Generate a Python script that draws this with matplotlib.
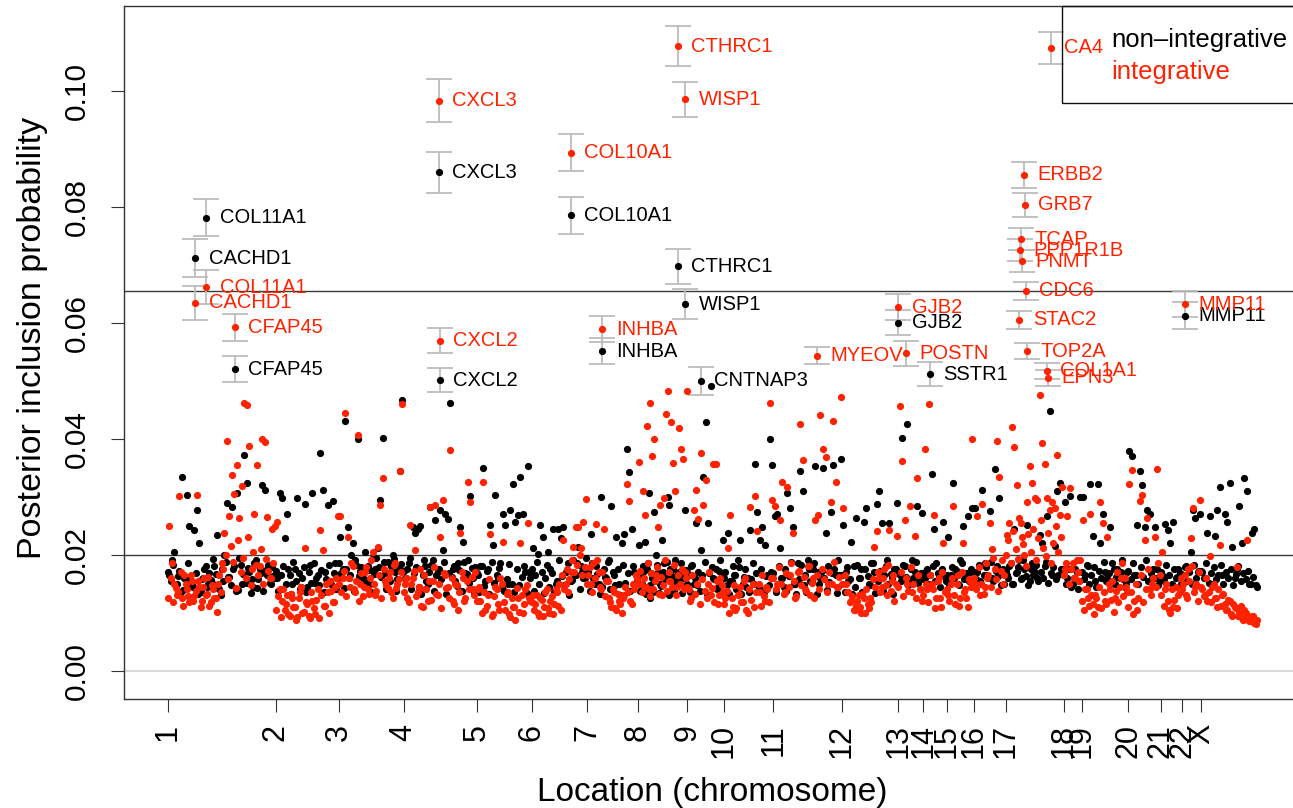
import matplotlib
matplotlib.use('Agg')
import matplotlib.pyplot as plt
from matplotlib.patches import Rectangle

plt.rcParams['font.family'] = ['Liberation Sans', 'DejaVu Sans']

# ---------------- data ----------------
chromosomes = ['1', '2', '3', '4', '5', '6', '7', '8', '9', '10', '11', '12',
               '13', '14', '15', '16', '17', '18', '19', '20', '21', '22', 'X']
# chromosome start positions along the genome axis (gene-order units)
chrom_start = [0, 107.8, 171, 235.7, 308.7, 363.5, 419.1, 470.1, 519.5, 556.1,
               605.5, 674, 730.3, 755.4, 779, 805.7, 837.6, 895.5, 913.7,
               960.2, 992.9, 1014.2, 1033.2]
genome_end = 1090.0

# background posterior inclusion probabilities, units of 1e-4, per chromosome
# (genes at odd half-steps)
black_pip = [
    [165,190,205,150,172,334,160,303,250,148,243,277,221,158,175,145,168,152,180,234,140,175,200,289,162,283,180,306,195,150,372,323,170,158,185,142,175,320,311,165,152,178,160],
    [160,306,297,228,271,165,150,175,298,140,160,287,145,182,306,152,165,375,311,170,286,155,293,185,160],
    [231,175,430,248,165,220,190,400,172,160,205,180,150,195,175,212,295,401,168,188,155,200,170,158,345,466],
    [160,175,195,248,237,245,249,165,180,150,283,190,260,170,277,208,270,261,461,175,155,185,248,222,168,190,301,160,178],
    [165,180,349,155,175,251,217,303,160,185,271,251,150,277,322,257,268,334,271,170,353,160],
    [211,165,202,251,231,160,205,175,245,150,245,228,248,170,185,155,190,165,214,180,160,195],
    [170,235,160,180,150,299,175,160,190,284,165,231,150,220,235,383,343,245,170,155],
    [217,165,180,222,175,306,125,160,274,199,170,150,225,185,160,299,286,160,175,190,155,170,185,160,277,150],
    [165,180,150,254,170,208,334,429,254,490,160,175,145,190,225],
    [170,237,155,180,165,190,225,150,175,160,243,185,357,274,225,248,217,165,399,355],
    [266,271,211,160,175,306,280,248,150,185,345,309,165,190,155,175,353,170,160,349,237,180,274,355,165,190,365],
    [251,170,155,222,180,263,160,175,257,280,150,185,170,287,310,255,165,190,254,160,175,289],
    [165,401,180,426,155,190,170,284,160,272],
    [160,175,150,339,245,185,165,170,257,155],
    [231,165,323,175,150,190,249,160,266,170,280],
    [280,170,155,311,185,165,275,160,347,180,297,170,150],
    [165,180,150,245,170,190,160,175,251,155,185,170,160,234,220,180,266,447,165,215,310,324,175],
    [291,160,301,150,175,140,300],
    [300,165,180,322,232,155,322,220,271,170,160,248,185,150,175,160,190,145,170],
    [378,370,165,251,345,320,248,277,271,160,248,175,155],
    [165,253,243,220,257,160,175,150],
    [165,180,155,205,277,263,170,271],
    [170,160,237,266,150,232,277,316,165,271,257,323,214,160,175,284,221,333,309,150,237,244,145],
]
red_pip = [
    [250,185,150,130,301,125,165,140,118,155,128,303,145,120,160,132,112,148,125,102,165,185,238,396,266,338,305,355,263,318,462,458,388,175,270,355,180,399,395,265,160,245,250],
    [257,140,120,105,130,95,125,110,92,135,100,211,115,90,120,98,140,243,208,112,135,155,118,145,266],
    [266,160,445,231,145,180,135,407,150,128,170,140,160,205,130,214,286,333,155,142,170,125,185,150,344,460],
    [150,125,252,160,208,135,175,110,140,120,283,155,286,130,231,294,165,145,380,120,150,105,237,160,125,325,291,140,170],
    [140,120,325,105,130,236,98,145,115,160,222,105,135,92,110,87,125,220,100,140,255,120],
    [130,115,100,125,95,135,108,120,98,140,112,105,225,150,135,170,214,248,248,211,257,296],
    [165,150,185,253,170,140,245,155,125,110,135,105,120,100,130,322,293,115,140,160],
    [360,150,309,268,422,140,461,370,399,165,248,286,130,297,442,482,155,429,358,309,145,419,383,365,170,482],
    [140,125,277,311,261,376,286,329,150,130,356,357,115,160,135],
    [125,211,268,110,105,130,145,118,160,100,283,150,301,241,135,165,120,140,461,295],
    [284,150,260,326,135,316,165,237,125,170,425,363,140,180,130,160,260,268,441,383,369,150,291,431,326,145,472],
    [280,150,135,120,105,112,130,100,125,140,108,118,214,240,160,145,175,130,243,155,120,232],
    [456,361,260,150,284,135,233,333,140,120],
    [382,140,460,150,268,125,160,110,220,135],
    [130,150,284,115,165,125,221,140,110,155,399],
    [150,266,130,287,145,160,255,209,175,396,334,190,165],
    [234,254,421,385,320,263,231,200,290,353,324,297,294,476,393,356,297,277,290,280,372,268,317],
    [175,266,315,185,160,170,190],
    [260,140,125,271,115,130,110,291,254,120,231,140,155,125,170,145,185,160,135],
    [322,346,120,105,293,303,225,263,140,150,231,347,165],
    [205,140,120,99,110,145,130,160],
    [150,130,175,228,280,145,120,294],
    [140,130,120,197,145,125,110,217,130,115,105,120,95,110,179,100,90,105,226,85,95,82,88],
]

# further genes of each chromosome (at whole steps, between the genes above)
black_pip_b = [
    [170,155,182,148,163,136,139,158,186,151,144,168,132,135,160,181,149,157,192,166,143,131,154,188,162,147,175,138,139,183,166,152,177,134,145,190,158,169,137,174,182,150,163],
    [172,138,165,181,149,176,132,187,155,168,144,179,135,171,152,185,160,147,174,136,158,182,150,169,141],
    [185,168,142,175,160,199,138,183,164,178,150,157,173,136,166,195,179,162,188,140,158,181,193,137,176,184],
    [172,160,185,140,168,178,145,133,190,155,170,182,138,165,175,158,187,132,169,161,180,146,173,137,188,166,151,177,135],
    [168,135,180,146,172,132,188,152,165,177,143,138,158,184,150,136,175,148,162,181,134,170],
    [175,138,188,150,170,134,182,145,168,136,155,190,163,148,172,131,157,166,185,140,171,160],
    [172,138,185,150,166,133,145,162,188,140,170,148,176,131,183,152,168,137,180,165],
    [165,138,150,172,132,186,148,168,136,155,182,134,146,170,158,188,130,175,164,138,149,169,157,134,161,173],
    [170,135,182,160,148,138,165,188,132,168,178,158,140,172,163],
    [160,148,132,155,165,140,178,132,162,145,136,158,150,168,142,175,135,163,148,170],
    [168,135,180,160,145,138,163,188,150,133,158,183,147,136,176,155,185,132,149,172,160,139,153,168,175,134,165],
    [165,136,178,158,132,145,182,160,135,175,163,148,186,134,155,172,138,180,150,167,133,175],
    [170,155,182,162,148,175,160,188,152,168],
    [158,172,148,165,180,155,168,145,175,162],
    [165,150,178,160,172,148,185,158,168,155,175],
    [170,158,182,150,165,178,160,188,155,172,163,148,176],
    [172,160,185,150,168,178,158,190,163,148,175,165,182,155,170,160,187,152,168,178,158,165,175],
    [165,150,175,145,160,170,155],
    [170,158,182,150,165,178,145,172,160,188,155,168,150,175,162,145,170,158,152],
    [172,158,185,165,150,178,162,190,155,168,175,160,148],
    [170,158,182,165,150,175,162,168],
    [165,178,155,170,150,182,160,172],
    [172,160,185,152,168,178,158,165,182,150,170,160,175,148,166,180,155,168,158,172,150,162,148],
]
red_pip_b = [
    [125,160,118,142,135,170,112,150,128,165,120,138,155,110,145,130,162,118,140,125,150,135,175,200,158,215,188,142,225,170,195,160,230,148,205,182,165,210,150,192,172,160,185],
    [105,128,92,140,115,98,132,110,88,125,145,102,118,95,135,108,122,90,130,112,150,100,138,118,160],
    [150,135,172,128,160,185,140,155,120,168,145,178,132,190,150,138,165,125,175,148,160,135,182,142,158,170],
    [135,160,118,150,172,128,145,112,165,140,155,122,178,132,150,108,168,142,125,160,115,148,135,170,120,155,140,162,130],
    [120,145,100,135,112,158,95,128,140,105,150,118,132,98,125,110,142,102,130,115,148,125],
    [118,105,130,95,122,110,140,100,128,115,135,150,165,140,175,158,190,170,182,200,165,178],
    [150,178,135,160,190,145,170,128,155,118,140,108,132,115,125,145,135,120,150,165],
    [150,172,135,160,145,185,128,168,140,155,178,132,162,148,190,138,170,155,145,182,130,165,150,175,140,160],
    [145,120,165,132,150,115,158,138,125,170,142,118,155,130,148],
    [115,138,100,125,148,108,132,118,155,105,140,122,110,135,150,112,128,145,118,160],
    [160,140,178,150,132,168,145,185,155,128,172,148,162,138,180,152,125,165,140,175,158,135,170,150,188,145,162],
    [150,165,135,118,128,105,120,110,132,100,115,125,158,145,170,135,160,148,182,138,165,150],
    [145,170,128,160,138,178,150,125,165,140],
    [130,150,118,165,140,108,155,125,170,135],
    [140,120,160,130,150,112,170,135,125,158,145],
    [160,140,178,150,132,185,165,145,195,158,138,172,150],
    [200,225,185,240,210,192,255,218,180,235,205,245,190,228,260,212,198,238,185,220,250,205,230],
    [165,185,150,175,160,190,155],
    [120,105,140,112,130,98,125,145,108,135,115,150,122,102,138,118,160,128,145],
    [110,135,98,150,125,165,118,140,175,130,160,145,185],
    [130,112,150,105,140,122,108,135],
    [140,165,125,155,180,135,150,170],
    [145,128,160,135,118,150,125,140,112,132,105,122,98,115,108,95,112,88,100,92,85,95,80],
]

# labelled genes (non-integrative model)
black_genes = ['COL11A1', 'CACHD1', 'CFAP45', 'CXCL3', 'CXCL2', 'COL10A1', 'INHBA',
               'CTHRC1', 'WISP1', 'CNTNAP3', 'GJB2', 'SSTR1', 'MMP11']
black_gene_pos = [38.3, 27.3, 67, 271, 272, 402.7, 434.3, 509.7, 517, 532.7, 730.3, 762, 1017]
black_gene_pip = [0.0781, 0.0711, 0.0520, 0.0859, 0.0501, 0.0785, 0.0551,
                  0.0697, 0.0632, 0.0500, 0.0600, 0.0511, 0.0612]
black_gene_err = [0.0032, 0.0033, 0.0023, 0.0036, 0.0021, 0.0032, 0.0022,
                  0.0030, 0.0026, 0.0024, 0.0022, 0.0021, 0.0023]

# labelled genes (integrative model)
red_genes = ['COL11A1', 'CACHD1', 'CFAP45', 'CXCL3', 'CXCL2', 'COL10A1', 'INHBA',
             'CTHRC1', 'WISP1', 'MYEOV', 'GJB2', 'POSTN', 'ERBB2', 'GRB7', 'TCAP',
             'PPP1R1B', 'PNMT', 'CDC6', 'STAC2', 'TOP2A', 'COL1A1', 'EPN3', 'CA4', 'MMP11']
red_gene_pos = [38.3, 27.3, 67, 271, 272, 402.7, 434.3, 509.7, 517, 649.3, 730.3, 737.7,
                856, 857, 853, 852, 854.3, 858, 851.3, 858.7, 878.7, 879.7, 882.7, 1017]
red_gene_pip = [0.0661, 0.0634, 0.0592, 0.0983, 0.0569, 0.0893, 0.0589, 0.1077, 0.0985,
                0.0543, 0.0627, 0.0547, 0.0855, 0.0803, 0.0744, 0.0725, 0.0706, 0.0655,
                0.0605, 0.0551, 0.0517, 0.0505, 0.1074, 0.0632]
red_gene_err = [0.0029, 0.0029, 0.0023, 0.0037, 0.0021, 0.0032, 0.0023, 0.0035, 0.0030,
                0.0015, 0.0022, 0.0021, 0.0022, 0.0021, 0.0019, 0.0019, 0.0019, 0.0016,
                0.0016, 0.0014, 0.0014, 0.0014, 0.0028, 0.0023]

upper_threshold = 0.0655
lower_threshold = 0.02
legend_labels = ['non\u2013integrative', 'integrative']

BLACK = '#000000'
RED = '#ff2200'
GREY = '#bcbcbc'


def positions(series, offset):
    xs, ys = [], []
    ends = chrom_start[1:] + [genome_end]
    for c, vals in enumerate(series):
        s, e = chrom_start[c], ends[c]
        n = len(vals)
        step = (e - s) / n
        for i, v in enumerate(vals):
            xs.append(s + (i + offset) * step)
            ys.append(v / 10000.0)
    return xs, ys


# ---------------- figure ----------------
W, H = 1293, 808
fig = plt.figure(figsize=(W / 100, H / 100), dpi=100)
left_px, right_px, top_px, bottom_px = 124.4, 1301.6, 6, 699
ax = fig.add_axes([left_px / W, 1 - bottom_px / H,
                   (right_px - left_px) / W, (bottom_px - top_px) / H])

ax.set_xlim(-43.6, 1133.6)
ax.set_ylim(-0.00488, 0.1146)

ax.axhline(0.0, color='#d9d9d9', lw=1.5, zorder=0)
ax.axhline(lower_threshold, color='#3a3a3a', lw=1.0, zorder=0.5)
ax.axhline(upper_threshold, color='#3a3a3a', lw=1.0, zorder=0.5)

bx1, by1 = positions(black_pip, 0.5)
bx2, by2 = positions(black_pip_b, 0.0)
rx1, ry1 = positions(red_pip, 0.5)
rx2, ry2 = positions(red_pip_b, 0.0)
ax.scatter(bx1 + bx2, by1 + by2, s=27, c=BLACK, linewidths=0, zorder=2)
ax.scatter(rx1 + rx2, ry1 + ry2, s=27, c=RED, linewidths=0, zorder=2.1)

ax.errorbar(black_gene_pos, black_gene_pip, yerr=black_gene_err, fmt='none',
            ecolor=GREY, elinewidth=1.3, capsize=9.7, capthick=1.3, zorder=1)
ax.errorbar(red_gene_pos, red_gene_pip, yerr=red_gene_err, fmt='none',
            ecolor=GREY, elinewidth=1.3, capsize=9.7, capthick=1.3, zorder=1)
ax.scatter(black_gene_pos, black_gene_pip, s=27, c=BLACK, linewidths=0, zorder=3)
ax.scatter(red_gene_pos, red_gene_pip, s=27, c=RED, linewidths=0, zorder=3)

for name, x, y in zip(black_genes, black_gene_pos, black_gene_pip):
    ax.annotate(name, (x, y), xytext=(9.7, 0), textcoords='offset points',
                ha='left', va='center', fontsize=14.5, color=BLACK, zorder=4)
for name, x, y in zip(red_genes, red_gene_pos, red_gene_pip):
    ax.annotate(name, (x, y), xytext=(9.7, 0), textcoords='offset points',
                ha='left', va='center', fontsize=14.5, color=RED, zorder=4)

# axes styling
for sp in ax.spines.values():
    sp.set_color('#333333')
    sp.set_linewidth(1.0)

ax.set_xticks(chrom_start)
ax.set_xticklabels(chromosomes, rotation=90, ha='center', va='top', fontsize=22)
ax.set_yticks([0.0, 0.02, 0.04, 0.06, 0.08, 0.10])
ax.set_yticklabels(['0.00', '0.02', '0.04', '0.06', '0.08', '0.10'],
                   rotation=90, va='center', ha='right', fontsize=21.5)
ax.tick_params(axis='x', direction='out', length=9.4, width=0.8, color='#333333', pad=8.6)
ax.tick_params(axis='y', direction='out', length=9.4, width=0.8, color='#333333', pad=14.4)

fig.text(33 / W, 1 - 338 / H, 'Posterior inclusion probability', rotation=90,
         ha='center', va='center', fontsize=24.5)
fig.text(712 / W, 1 - 792 / H, 'Location (chromosome)', ha='center', va='center',
         fontsize=24)

# legend box (top right)
lx0 = (1062 - left_px) / (right_px - left_px)
ly0 = (bottom_px - 103) / (bottom_px - top_px)
ax.add_patch(Rectangle((lx0, ly0), 1.0 - lx0, 1.0 - ly0, transform=ax.transAxes,
                       fill=False, ec='#111111', lw=1.0, zorder=5, clip_on=False))
tx = (1111 - left_px) / (right_px - left_px)
ax.text(tx, (bottom_px - 40) / (bottom_px - top_px), legend_labels[0], transform=ax.transAxes,
        ha='left', va='center', fontsize=18.5, color=BLACK, zorder=6)
ax.text(tx, (bottom_px - 72) / (bottom_px - top_px), legend_labels[1], transform=ax.transAxes,
        ha='left', va='center', fontsize=18.5, color=RED, zorder=6)

fig.savefig('out.png', dpi=100)
